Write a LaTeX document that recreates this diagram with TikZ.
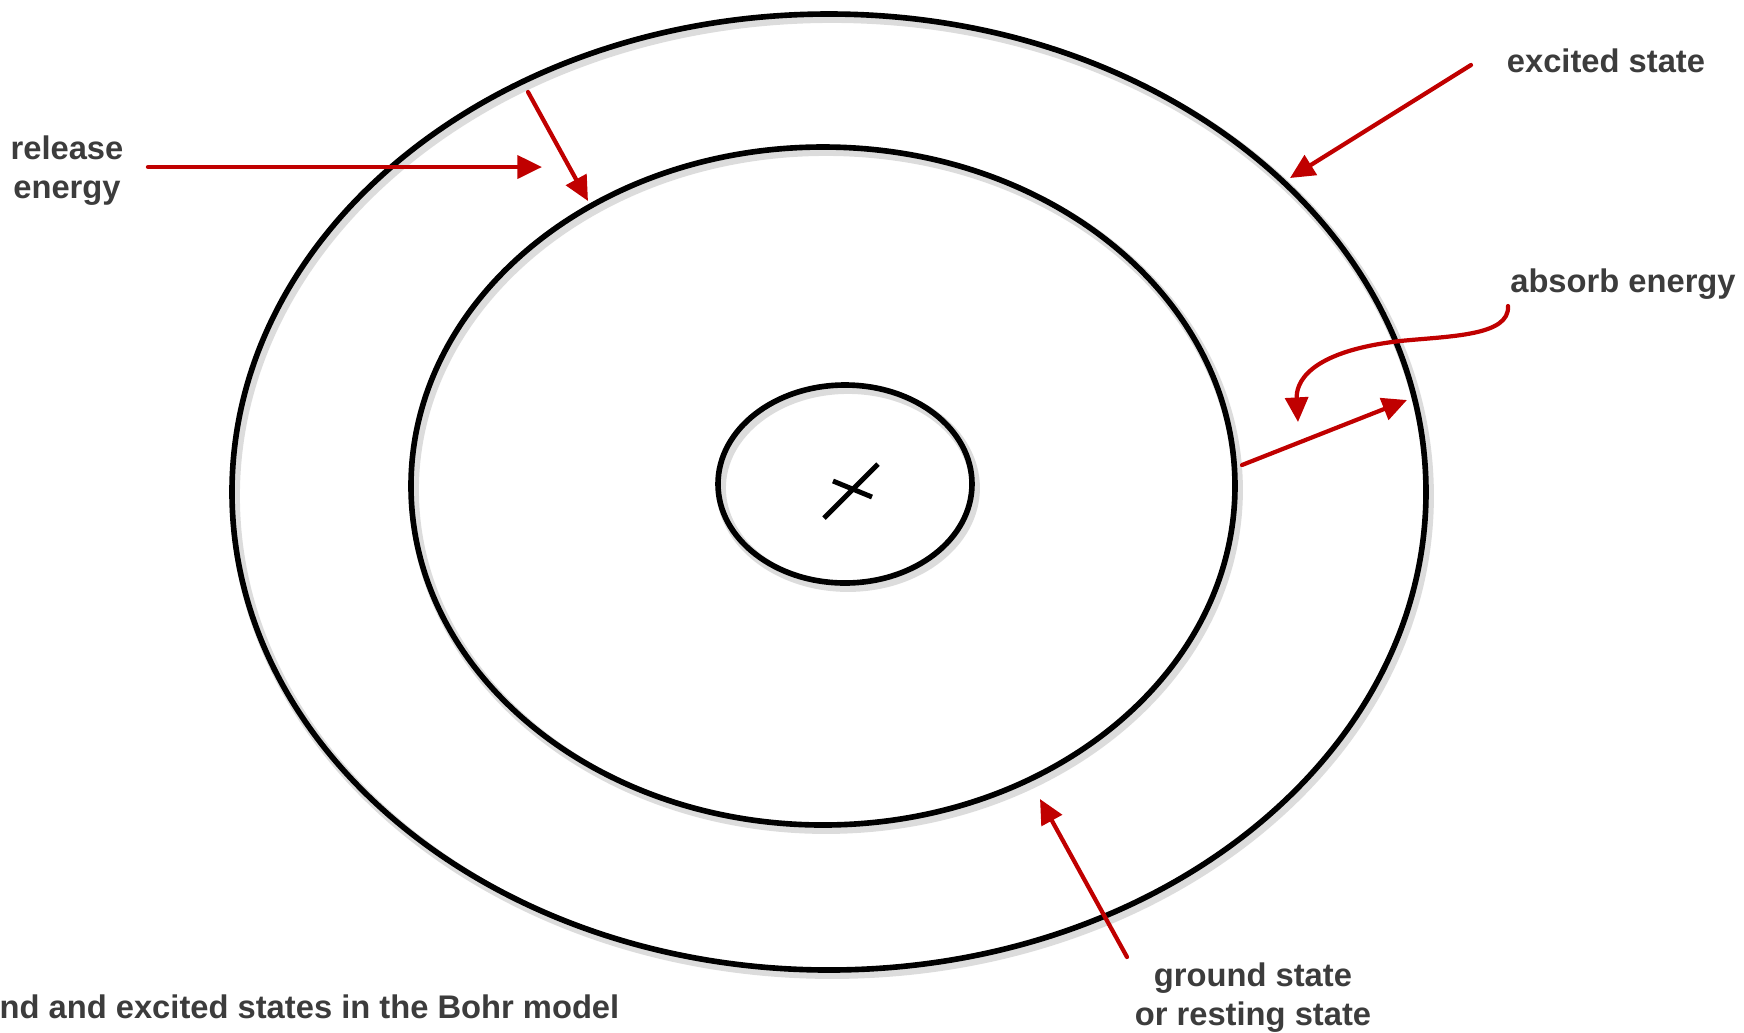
\documentclass[tikz,border=0pt]{standalone}
\usepackage{fontspec}
\setmainfont{Liberation Sans}
\usetikzlibrary{arrows.meta}
\definecolor{arrowred}{RGB}{192,0,0}
\definecolor{labelgray}{RGB}{60,60,60}

\begin{document}
\begin{tikzpicture}[x=0.01cm, y=-0.01cm]
	% Styles
	\tikzset{
		orbit/.style={line width=1.6pt, black},
		orbitshadow/.style={line width=2.8pt, black!30, opacity=.45},
		pointer/.style={line width=1.2pt, arrowred, line cap=round, -{Triangle[length=7pt, width=6.5pt]}},
		note/.style={inner sep=0pt, text=labelgray, font=\fontsize{9.3}{11.1}\selectfont\bfseries, align=center}
	}
	\useasboundingbox (0,0) rectangle (1744,1032);

	% Orbits
	\coordinate (outerc) at (829,492);
	\coordinate (middlec) at (823,486);
	\coordinate (innerc) at (845,484);
	\draw[orbitshadow] ([shift={(3,4)}]outerc) ellipse (597 and 478);
	\draw[orbitshadow] ([shift={(3,4)}]middlec) ellipse (412 and 339);
	\draw[orbitshadow] ([shift={(3,4)}]innerc) ellipse (127 and 99);
	\draw[orbit] (outerc) ellipse (597 and 478);
	\draw[orbit] (middlec) ellipse (412 and 339);
	\draw[orbit] (innerc) ellipse (127 and 99);

	% Nucleus
	\coordinate (n1) at (824,518);
	\coordinate (n2) at (878,464);
	\coordinate (n3) at (833,481);
	\coordinate (n4) at (872,497);
	\draw[line width=1.4pt] (n1) -- (n2);
	\draw[line width=1.4pt] (n3) -- (n4);

	% Labels
	\node[note] (release) at (67,171) {release\\energy};
	\node[note] (excited) at (1606,61) {excited state};
	\node[note] (absorb) at (1623,284) {absorb energy};
	\node[note] (ground) at (1253,998) {ground state\\or resting state};
	\node[note, anchor=east] (caption) at (620,1007) {nd and excited states in the Bohr model};

	% Arrow ends
	\coordinate (relA) at (148,167);
	\coordinate (relB) at (542,167);
	\coordinate (relC) at (528,92);
	\coordinate (relD) at (588,201);
	\coordinate (excA) at (1471,65);
	\coordinate (excB) at (1290,178);
	\coordinate (absA) at (1242,465);
	\coordinate (absB) at (1407,400);
	\coordinate (absC) at (1508,306);
	\coordinate (absD) at (1298,422);
	\coordinate (gndA) at (1127,957);
	\coordinate (gndB) at (1040,799);

	% Arrows
	\draw[pointer] (relA) -- (relB);
	\draw[pointer] (relC) -- (relD);
	\draw[pointer] (excA) -- (excB);
	\draw[pointer] (absA) -- (absB);
	\draw[pointer] (absC) .. controls (1510,336) and (1450,336) .. (1400,341) .. controls (1305,352) and (1296,385) .. (absD);
	\draw[pointer] (gndA) -- (gndB);
\end{tikzpicture}
\end{document}
